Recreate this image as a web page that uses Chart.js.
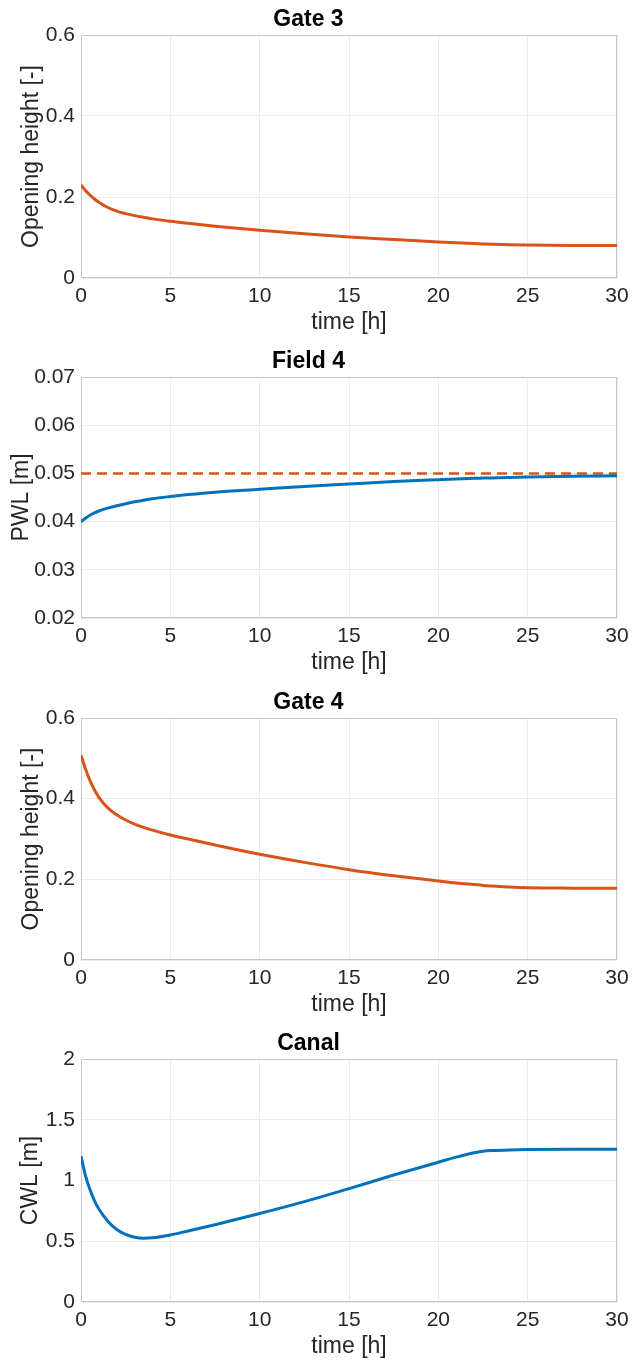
<!DOCTYPE html>
<html>
<head>
<meta charset="utf-8">
<script src="https://cdn.jsdelivr.net/npm/chart.js@4.4.0/dist/chart.umd.min.js"></script>
<style>
  html, body { margin: 0; padding: 0; background: #fff; }
  body { width: 632px; height: 1364px; position: relative; overflow: hidden; }
  canvas { position: absolute; left: 0; }
</style>
</head>
<body>
<canvas id="gate3" width="632" height="340" style="top:0px"></canvas>
<canvas id="field4" width="632" height="338" style="top:342px"></canvas>
<canvas id="gate4" width="632" height="339" style="top:683px"></canvas>
<canvas id="canal" width="632" height="340" style="top:1024px"></canvas>
<script>
// time axis (hours) shared by the four panels
var hours = [0, 0.25, 0.5, 0.75, 1, 1.5, 2, 2.5, 3, 3.5, 4, 5, 6, 7.5, 10, 12.5, 15, 17.5, 20, 21, 22, 22.5, 23, 24, 25, 27.5, 30];
var timeTicks = [0, 5, 10, 15, 20, 25, 30];

// Gate 3 opening height [-]
var gate3Opening = [0.230, 0.216, 0.205, 0.195, 0.187, 0.174, 0.165, 0.159, 0.154, 0.150, 0.146, 0.140, 0.135, 0.128, 0.118, 0.109, 0.101, 0.095, 0.089, 0.087, 0.085, 0.0842, 0.0835, 0.0822, 0.0812, 0.0802, 0.080];
var gate3Ticks = [0, 0.2, 0.4, 0.6];

// Field 4 ponded water level [m] and its target level
var field4PWL = [0.0400, 0.0407, 0.0413, 0.0418, 0.0422, 0.0428, 0.0433, 0.04372, 0.0441, 0.04445, 0.04475, 0.0452, 0.0456, 0.0461, 0.0467, 0.0473, 0.0478, 0.0483, 0.0487, 0.04885, 0.04897, 0.04902, 0.04907, 0.04917, 0.04925, 0.0494, 0.0495];
var targetHours = [0, 30];
var field4Target = [0.05, 0.05];
var field4Ticks = [0.02, 0.03, 0.04, 0.05, 0.06, 0.07];

// Gate 4 opening height [-]
var gate4Opening = [0.508, 0.474, 0.445, 0.422, 0.403, 0.377, 0.360, 0.347, 0.337, 0.329, 0.322, 0.310, 0.300, 0.285, 0.262, 0.242, 0.224, 0.209, 0.196, 0.191, 0.187, 0.185, 0.1835, 0.1808, 0.1792, 0.1782, 0.178];
var gate4Ticks = [0, 0.2, 0.4, 0.6];

// Canal water level [m]
var canalCWL = [1.20, 1.04, 0.925, 0.835, 0.765, 0.665, 0.597, 0.556, 0.533, 0.525, 0.528, 0.552, 0.585, 0.636, 0.728, 0.826, 0.933, 1.045, 1.150, 1.192, 1.228, 1.240, 1.246, 1.252, 1.255, 1.257, 1.257];
var canalTicks = [0, 0.5, 1, 1.5, 2];

var ORANGE = '#D95319';
var BLUE = '#0072BD';
var FONT = "'Liberation Sans', Arial, Helvetica, sans-serif";

function points(xs, ys) {
    return xs.map(function(h, i) { return {x: h, y: ys[i]}; });
}

// light grey box round the plot area, like matlab axes
var boxPlugin = {
    id: 'box',
    beforeDatasetsDraw: function(chart) {
        var a = chart.chartArea, c = chart.ctx;
        c.save();
        c.strokeStyle = '#c6c6c6';
        c.lineWidth = 1;
        c.strokeRect(a.left + 0.5, a.top + 0.5, a.right - a.left - 1, a.bottom - a.top - 1);
        c.restore();
    }
};

function makeChart(id, title, yTitle, yTitlePad, yTicks, datasets) {
    var config = {
        type: 'line',
        data: { datasets: datasets },
        options: {
            responsive: false,
            animation: false,
            layout: { padding: { left: 0, right: 15, top: 0, bottom: 0 } },
            plugins: {
                legend: { display: false },
                tooltip: { enabled: false },
                title: {
                    display: true,
                    text: title,
                    color: '#000',
                    font: { family: FONT, size: 23, weight: 'bold' },
                    padding: { top: 6, bottom: 1.4 }
                }
            },
            elements: { point: { radius: 0 } },
            scales: {
                x: {
                    type: 'linear',
                    min: 0,
                    max: 30,
                    afterBuildTicks: function(s) { s.ticks = timeTicks.map(function(v) { return {value: v}; }); },
                    afterFit: function(s) { s.height = 62; s.paddingLeft = 0; s.paddingRight = 0; },
                    grid: { color: '#ececec', drawTicks: false },
                    border: { display: false },
                    ticks: { color: '#262626', padding: 6, maxRotation: 0, font: { family: FONT, size: 21 } },
                    title: { display: true, text: 'time [h]', color: '#262626', padding: { top: 0, bottom: 4 }, font: { family: FONT, size: 23 } }
                },
                y: {
                    min: yTicks[0],
                    max: yTicks[yTicks.length - 1],
                    afterBuildTicks: function(s) { s.ticks = yTicks.map(function(v) { return {value: v}; }); },
                    afterFit: function(s) { s.width = 81; s.paddingTop = 0; s.paddingBottom = 0; },
                    grid: { color: '#ececec', drawTicks: false },
                    border: { display: false },
                    ticks: {
                        color: '#262626', padding: 6, font: { family: FONT, size: 21 },
                        callback: function(v) { return String(v); }
                    },
                    title: { display: true, text: yTitle, color: '#262626', padding: { top: yTitlePad, bottom: 0 }, font: { family: FONT, size: 23 } }
                }
            }
        },
        plugins: [boxPlugin]
    };
    var ctx = document.getElementById(id).getContext('2d');
    return new Chart(ctx, config);
}

makeChart('gate3', 'Gate 3', 'Opening height [-]', 18, gate3Ticks, [
    { data: points(hours, gate3Opening), borderColor: ORANGE, borderWidth: 3, cubicInterpolationMode: 'monotone', fill: false }
]);

makeChart('field4', 'Field 4', 'PWL [m]', 7.5, field4Ticks, [
    { data: points(hours, field4PWL), borderColor: BLUE, borderWidth: 3, cubicInterpolationMode: 'monotone', fill: false },
    { data: points(targetHours, field4Target), borderColor: ORANGE, borderWidth: 2.5, borderDash: [10, 6], fill: false }
]);

makeChart('gate4', 'Gate 4', 'Opening height [-]', 18, gate4Ticks, [
    { data: points(hours, gate4Opening), borderColor: ORANGE, borderWidth: 3, cubicInterpolationMode: 'monotone', fill: false }
]);

makeChart('canal', 'Canal', 'CWL [m]', 17, canalTicks, [
    { data: points(hours, canalCWL), borderColor: BLUE, borderWidth: 3, cubicInterpolationMode: 'monotone', fill: false }
]);
</script>
</body>
</html>
